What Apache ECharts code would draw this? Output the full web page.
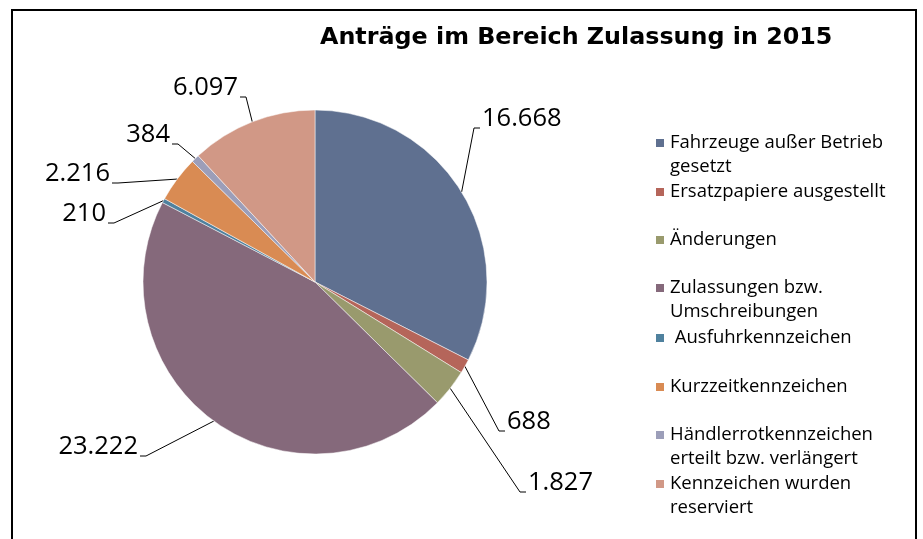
<!DOCTYPE html>
<html>
<head>
<meta charset="utf-8">
<script src="https://cdn.jsdelivr.net/npm/echarts@6/dist/echarts.min.js"></script>
<style>
  html, body { margin: 0; padding: 0; background: #fff; }
  #chart { width: 923px; height: 539px; }
</style>
</head>
<body>
<div id="chart"></div>
<script>
var categories = [
  'Fahrzeuge außer Betrieb\ngesetzt',
  'Ersatzpapiere ausgestellt',
  'Änderungen',
  'Zulassungen bzw.\nUmschreibungen',
  ' Ausfuhrkennzeichen',
  'Kurzzeitkennzeichen',
  'Händlerrotkennzeichen\nerteilt bzw. verlängert',
  'Kennzeichen wurden\nreserviert'
];
var values = [16668, 688, 1827, 23222, 210, 2216, 384, 6097];
var colors = ['#5f7090', '#b5655a', '#999a6d', '#85697b', '#4f819e', '#d98b53', '#9c9eb9', '#d19886'];

// label anchor: [x of text edge, y of text centre, align]
var labelPos = [
  [482, 119, 'left'],
  [507, 422, 'left'],
  [528, 483, 'left'],
  [138, 447, 'right'],
  [106, 214, 'right'],
  [110, 174, 'right'],
  [170, 135, 'right'],
  [238, 88, 'right']
];
// legend icon centres (y)
var legendY = [143, 192, 240, 288, 338, 387, 435, 484];

function fmt(v) {
  return String(v).replace(/\B(?=(\d{3})+(?!\d))/g, '.');
}

var chart = echarts.init(document.getElementById('chart'));

var legends = categories.map(function (name, i) {
  var twoLines = name.indexOf('\n') >= 0;
  return {
    left: 654,
    top: twoLines ? legendY[i] - 36 : legendY[i] - 12,
    orient: 'vertical',
    padding: 0,
    itemGap: 0,
    itemWidth: 10,
    itemHeight: 10,
    icon: 'rect',
    selectedMode: false,
    data: [name],
    // blank first line keeps the first text line level with the icon
    formatter: function (n) { return twoLines ? '\n' + n : n; },
    textStyle: {
      fontFamily: 'Open Sans',
      fontSize: 18.5,
      color: '#000',
      lineHeight: 24
    }
  };
});

var option = {
  animation: false,
  backgroundColor: '#fff',
  color: colors,
  title: {
    text: 'Anträge im Bereich Zulassung in 2015',
    left: 320,
    top: 26,
    padding: 0,
    textStyle: {
      fontFamily: 'DejaVu Sans',
      fontWeight: 'bold',
      fontSize: 23.8,
      color: '#000'
    }
  },
  legend: legends,
  graphic: [{
    type: 'rect',
    shape: { x: 12, y: 10, width: 904, height: 560 },
    style: { fill: 'none', stroke: '#000', lineWidth: 2 },
    silent: true
  }],
  series: [{
    type: 'pie',
    center: [315, 282],
    radius: 172,
    startAngle: 90,
    clockwise: true,
    data: categories.map(function (c, i) { return { name: c, value: values[i] }; }),
    itemStyle: { borderColor: '#fff', borderWidth: 0.5 },
    label: {
      show: true,
      formatter: function (p) { return fmt(p.value); },
      fontFamily: 'Open Sans',
      fontSize: 25.5,
      color: '#000'
    },
    labelLine: {
      show: true,
      length: 20,
      length2: 10,
      lineStyle: { color: '#000', width: 1 }
    },
    labelLayout: function (p) {
      var pos = labelPos[p.dataIndex];
      var toRight = pos[2] === 'left';
      var by = pos[1] + 9;
      var x2 = toRight ? pos[0] - 8 : pos[0] + 8;
      var x3 = toRight ? pos[0] - 2 : pos[0] + 2;
      return {
        x: pos[0],
        y: pos[1],
        align: pos[2],
        verticalAlign: 'middle',
        labelLinePoints: [p.labelLinePoints[0], [x2, by], [x3, by]]
      };
    },
    emphasis: { disabled: true }
  }]
};

chart.setOption(option);
</script>
</body>
</html>
